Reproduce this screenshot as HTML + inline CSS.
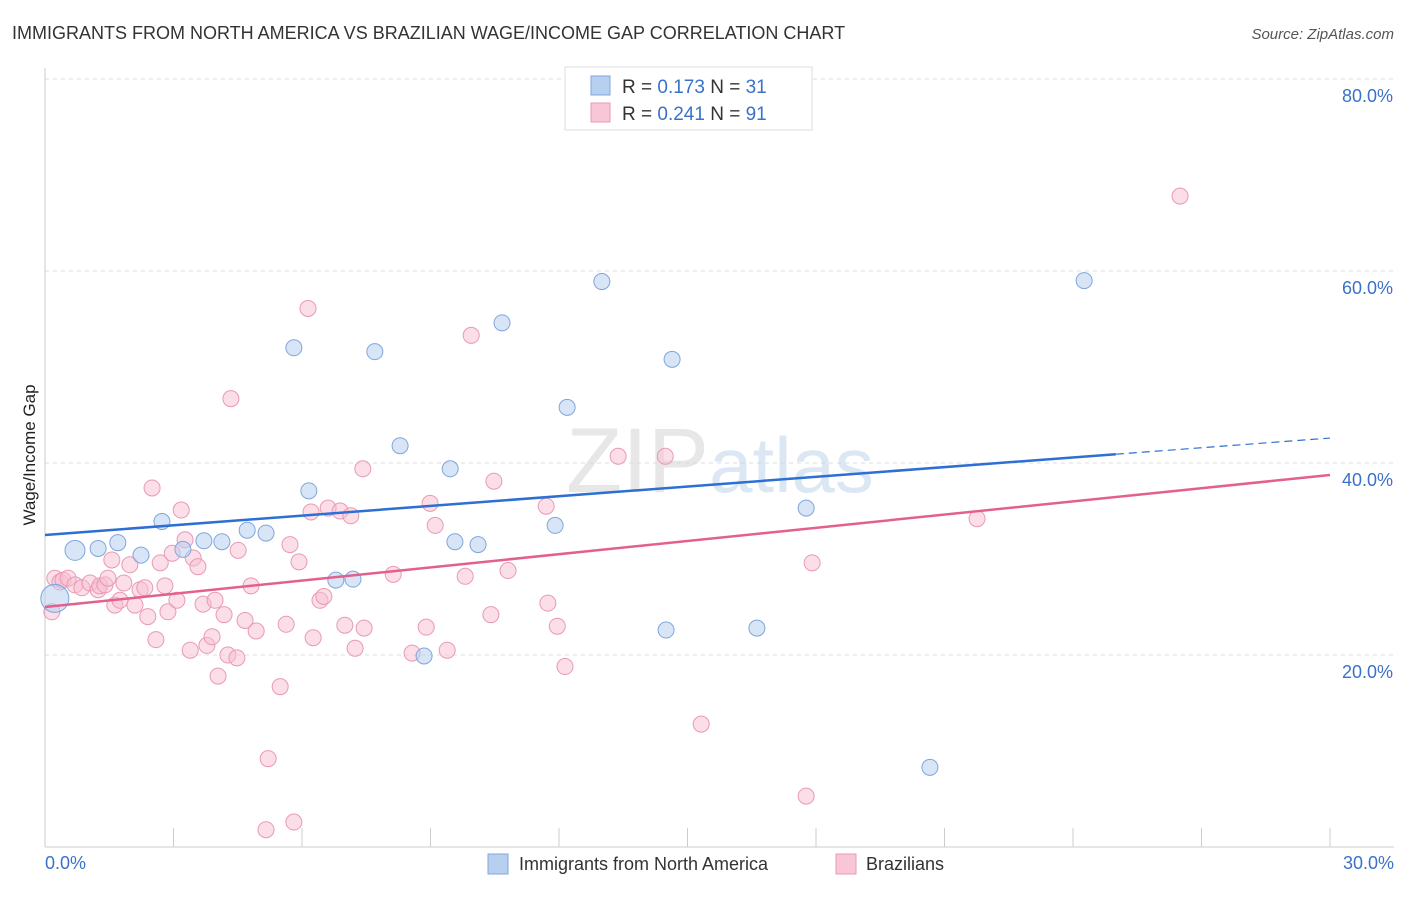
<!DOCTYPE html>
<html><head><meta charset="utf-8"><style>
body{margin:0;background:#fff;font-family:"Liberation Sans",sans-serif;}
svg text{font-family:"Liberation Sans",sans-serif;}
</style></head><body>
<svg id="chart" width="1406" height="892" xmlns="http://www.w3.org/2000/svg">
<text x="12" y="39" font-size="18" fill="#333">IMMIGRANTS FROM NORTH AMERICA VS BRAZILIAN WAGE/INCOME GAP CORRELATION CHART</text>
<text x="1394" y="39" font-size="15" fill="#555" font-style="italic" text-anchor="end">Source: ZipAtlas.com</text>
<g id="grid"></g>
<text x="720" y="492" font-size="92" fill="#d8d8d8" text-anchor="middle" font-family="Liberation Serif" opacity="0.6">ZIP<tspan fill="#c5d8ee" font-family="Liberation Sans" font-size="78">atlas</tspan></text>
<g id="pts"></g>
<g id="lines"></g>
<text x="35" y="455" font-size="17" fill="#222" text-anchor="middle" transform="rotate(-90 35 455)">Wage/Income Gap</text>
<text x="45" y="869" font-size="18" fill="#3a72c8">0.0%</text>
<text x="1394" y="869" font-size="18" fill="#3a72c8" text-anchor="end">30.0%</text>
<g>
<rect x="565" y="67" width="247" height="63" fill="#fff" stroke="#ddd"/>
<rect x="591" y="76" width="19" height="19" fill="#b8d0f0" stroke="#7fa6dc"/>
<rect x="591" y="103" width="19" height="19" fill="#f8c6d6" stroke="#e89ab4"/>
<text x="622" y="93" font-size="19" fill="#333">R = <tspan fill="#3a72c8">0.173</tspan>   N = <tspan fill="#3a72c8">31</tspan></text>
<text x="622" y="120" font-size="19" fill="#333">R = <tspan fill="#3a72c8">0.241</tspan>   N = <tspan fill="#3a72c8">91</tspan></text>
</g>
<g>
<rect x="488" y="854" width="20" height="20" fill="#b8d0f0" stroke="#7fa6dc"/>
<text x="519" y="870" font-size="18" fill="#333">Immigrants from North America</text>
<rect x="836" y="854" width="20" height="20" fill="#f8c6d6" stroke="#e89ab4"/>
<text x="866" y="870" font-size="18" fill="#333">Brazilians</text>
</g>
</svg>
<script>
const yTicks=[20,40,60,80];
const yTickLabels=["20.0%","40.0%","60.0%","80.0%"];
const blueX=[0.23,0.70,1.24,1.70,2.24,2.73,3.22,3.71,4.13,4.72,5.16,5.81,6.16,6.79,7.19,7.70,8.29,8.85,9.46,9.57,10.11,10.67,11.91,12.19,13.00,14.50,14.64,16.62,17.77,20.66,24.26];
const blueY=[25.9,30.9,31.1,31.7,30.4,33.9,31.0,31.9,31.8,33.0,32.7,52.0,37.1,27.8,27.9,51.6,41.8,19.9,39.4,31.8,31.5,54.6,33.5,45.8,58.9,22.6,50.8,22.8,35.3,8.3,59.0];
const pinkX=[0.16,0.23,0.35,0.42,0.54,0.70,0.86,1.05,1.24,1.28,1.40,1.47,1.56,1.63,1.75,1.84,1.98,2.10,2.22,2.33,2.40,2.50,2.59,2.69,2.80,2.87,2.97,3.08,3.18,3.27,3.39,3.46,3.57,3.69,3.78,3.90,3.97,4.04,4.18,4.27,4.34,4.48,4.51,4.67,4.81,4.93,5.16,5.21,5.49,5.63,5.72,5.81,5.93,6.14,6.21,6.26,6.42,6.51,6.61,6.89,7.00,7.14,7.24,7.42,7.45,8.13,8.57,8.90,8.99,9.11,9.39,9.81,9.95,10.41,10.48,10.81,11.70,11.74,11.96,12.14,13.38,14.48,15.32,17.77,17.91,21.76,26.50];
const pinkY=[24.5,28.0,27.6,27.8,28.0,27.3,27.0,27.5,26.8,27.2,27.3,28.0,29.9,25.2,25.7,27.5,29.4,25.2,26.8,27.0,24.0,37.4,21.6,29.6,27.2,24.5,30.6,25.7,35.1,32.0,20.5,30.1,29.2,25.3,21.0,21.9,25.7,17.8,24.2,20.0,46.7,19.7,30.9,23.6,27.2,22.5,1.8,9.2,16.7,23.2,31.5,2.6,29.7,56.1,34.9,21.8,25.7,26.1,35.3,35.0,23.1,34.5,20.7,39.4,22.8,28.4,20.2,22.9,35.8,33.5,20.5,28.2,53.3,24.2,38.1,28.8,35.5,25.4,23.0,18.8,40.7,40.7,12.8,5.3,29.6,34.2,67.8];
const blueTrend=[32.5,42.6], blueSolidEnd=25.0;
const pinkTrend=[25.0,38.75];
const NS="http://www.w3.org/2000/svg";
const X=v=>45+v/30*1285, Y=v=>847-v*9.6;
function mk(tag,attrs,parent){const e=document.createElementNS(NS,tag);for(const k in attrs)e.setAttribute(k,attrs[k]);parent.appendChild(e);return e;}
const grid=document.getElementById('grid');
yTicks.forEach((t,i)=>{
 const l=mk('line',{x1:45,x2:1394,y1:Y(t),y2:Y(t),stroke:'#ddd','stroke-dasharray':'4,4'},grid);
 
 
 const tx=mk('text',{x:1393,y:Y(t)+23,'font-size':18,fill:'#3a72c8','text-anchor':'end'},grid);
 tx.textContent=yTickLabels[i];
 
 
});
const ax=mk('line',{x1:45,x2:45,y1:68,y2:847,stroke:'#ccc'},grid);


const bx=mk('line',{x1:45,x2:1394,y1:847,y2:847,stroke:'#ccc'},grid);


for(let i=0;i<=10;i++){const t=mk('line',{x1:X(i*3),x2:X(i*3),y1:828,y2:847,stroke:'#ccc'},grid);
 
 }
const pts=document.getElementById('pts');
pinkX.forEach((x,i)=>{const c=mk('circle',{cx:X(x),cy:Y(pinkY[i]),r:8,fill:'rgba(248,190,210,0.5)',stroke:'#e89ab4','stroke-width':1},pts);
 
 });
blueX.forEach((x,i)=>{const r=i==0?14:(i==1?10:8);const c=mk('circle',{cx:X(x),cy:Y(blueY[i]),r:r,fill:'rgba(184,208,240,0.55)',stroke:'#7fa6dc','stroke-width':1},pts);
 
 });
const lines=document.getElementById('lines');
const bAt=x=>blueTrend[0]+(blueTrend[1]-blueTrend[0])*x/30;
const b1=mk('line',{x1:X(0),y1:Y(bAt(0)),x2:X(blueSolidEnd),y2:Y(bAt(blueSolidEnd)),stroke:'#2d6fd2','stroke-width':2.5},lines);


const b2=mk('line',{x1:X(blueSolidEnd),y1:Y(bAt(blueSolidEnd)),x2:X(30),y2:Y(bAt(30)),stroke:'#2d6fd2','stroke-width':1.2,'stroke-dasharray':'8,5'},lines);


const p1=mk('line',{x1:X(0),y1:Y(pinkTrend[0]),x2:X(30),y2:Y(pinkTrend[1]),stroke:'#e3608e','stroke-width':2.5},lines);


</script>
</body></html>
